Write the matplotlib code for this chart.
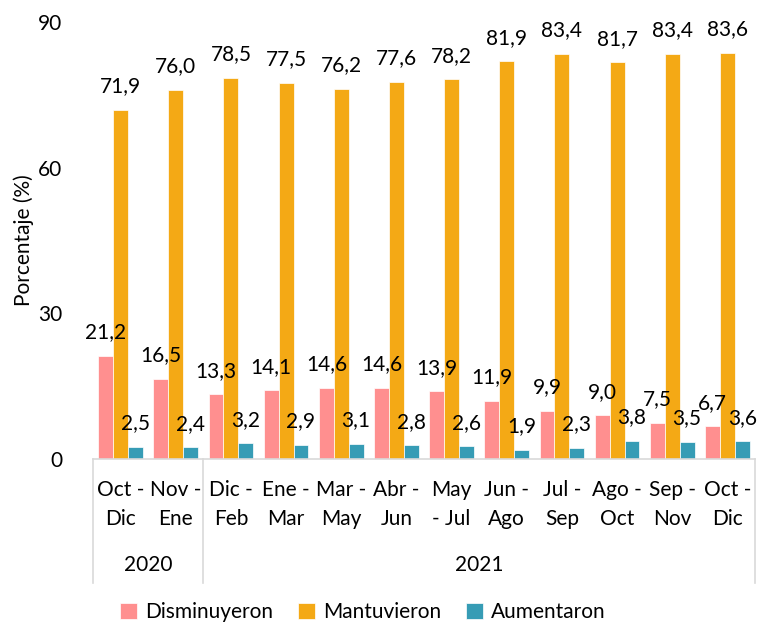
import numpy as np
import matplotlib
matplotlib.use("Agg")
import matplotlib.pyplot as plt
import matplotlib.transforms as mtransforms

plt.rcParams['font.family'] = ['Lato', 'DejaVu Sans']

# data
periods = ["Oct -\nDic", "Nov -\nEne", "Dic -\nFeb", "Ene -\nMar", "Mar -\nMay", "Abr -\nJun",
           "May\n- Jul", "Jun -\nAgo", "Jul -\nSep", "Ago -\nOct", "Sep -\nNov", "Oct -\nDic"]
years = ["2020", "2021"]
year_counts = [2, 10]
disminuyeron = [21.2, 16.5, 13.3, 14.1, 14.6, 14.6, 13.9, 11.9, 9.9, 9.0, 7.5, 6.7]
mantuvieron = [71.9, 76.0, 78.5, 77.5, 76.2, 77.6, 78.2, 81.9, 83.4, 81.7, 83.4, 83.6]
aumentaron = [2.5, 2.4, 3.2, 2.9, 3.1, 2.8, 2.6, 1.9, 2.3, 3.8, 3.5, 3.6]

series = [("Disminuyeron", disminuyeron, "#FF8F8F"),
          ("Mantuvieron", mantuvieron, "#F4A915"),
          ("Aumentaron", aumentaron, "#369CB5")]

fig = plt.figure(figsize=(7.64, 6.27), dpi=100)
ax = fig.add_axes([0.1217, 0.268, 0.8665, 0.697])

x = np.arange(len(periods))
w = 0.27
for i, (name, vals, col) in enumerate(series):
    pos = x + (i - 1) * w
    ax.bar(pos, vals, w, color=col, edgecolor="white", linewidth=0.5, label=name)
    for px, v in zip(pos, vals):
        ax.annotate(f"{v:.1f}".replace(".", ","), (px, v), xytext=(0, 17),
                    textcoords="offset points", ha="center", va="center", fontsize=15)

ax.set_xlim(-0.5, len(periods) - 0.5)
ax.set_ylim(0, 90)
ax.set_yticks([0, 30, 60, 90])
ax.tick_params(axis="y", length=0, labelsize=15, pad=22)
ax.set_ylabel("Porcentaje (%)", fontsize=15)
ax.yaxis.set_label_coords(-0.089, 0.5)

ax.set_xticks(x)
ax.set_xticklabels(periods, fontsize=15, linespacing=1.6)
ax.tick_params(axis="x", length=0, pad=15)

for s in ["top", "right", "left"]:
    ax.spines[s].set_visible(False)
ax.spines["bottom"].set_color("#D9D9D9")
ax.spines["bottom"].set_linewidth(1.2)

# group separators and year labels
trans = mtransforms.blended_transform_factory(ax.transData, ax.transAxes)
edges = np.concatenate([[0], np.cumsum(year_counts)]) - 0.5
for e in edges:
    ax.plot([e, e], [0, -0.284], transform=trans, color="#D9D9D9", lw=1.2, clip_on=False)
for yr, a, b in zip(years, edges[:-1], edges[1:]):
    ax.text((a + b) / 2, -0.243, yr, transform=trans, ha="center", va="center", fontsize=15)

ax.legend(loc="center", bbox_to_anchor=(0.408, -0.35), ncol=3, frameon=False,
          fontsize=15, handlelength=0.8, handleheight=0.8, columnspacing=1.2, handletextpad=0.4)

fig.savefig("out.png", dpi=100)
